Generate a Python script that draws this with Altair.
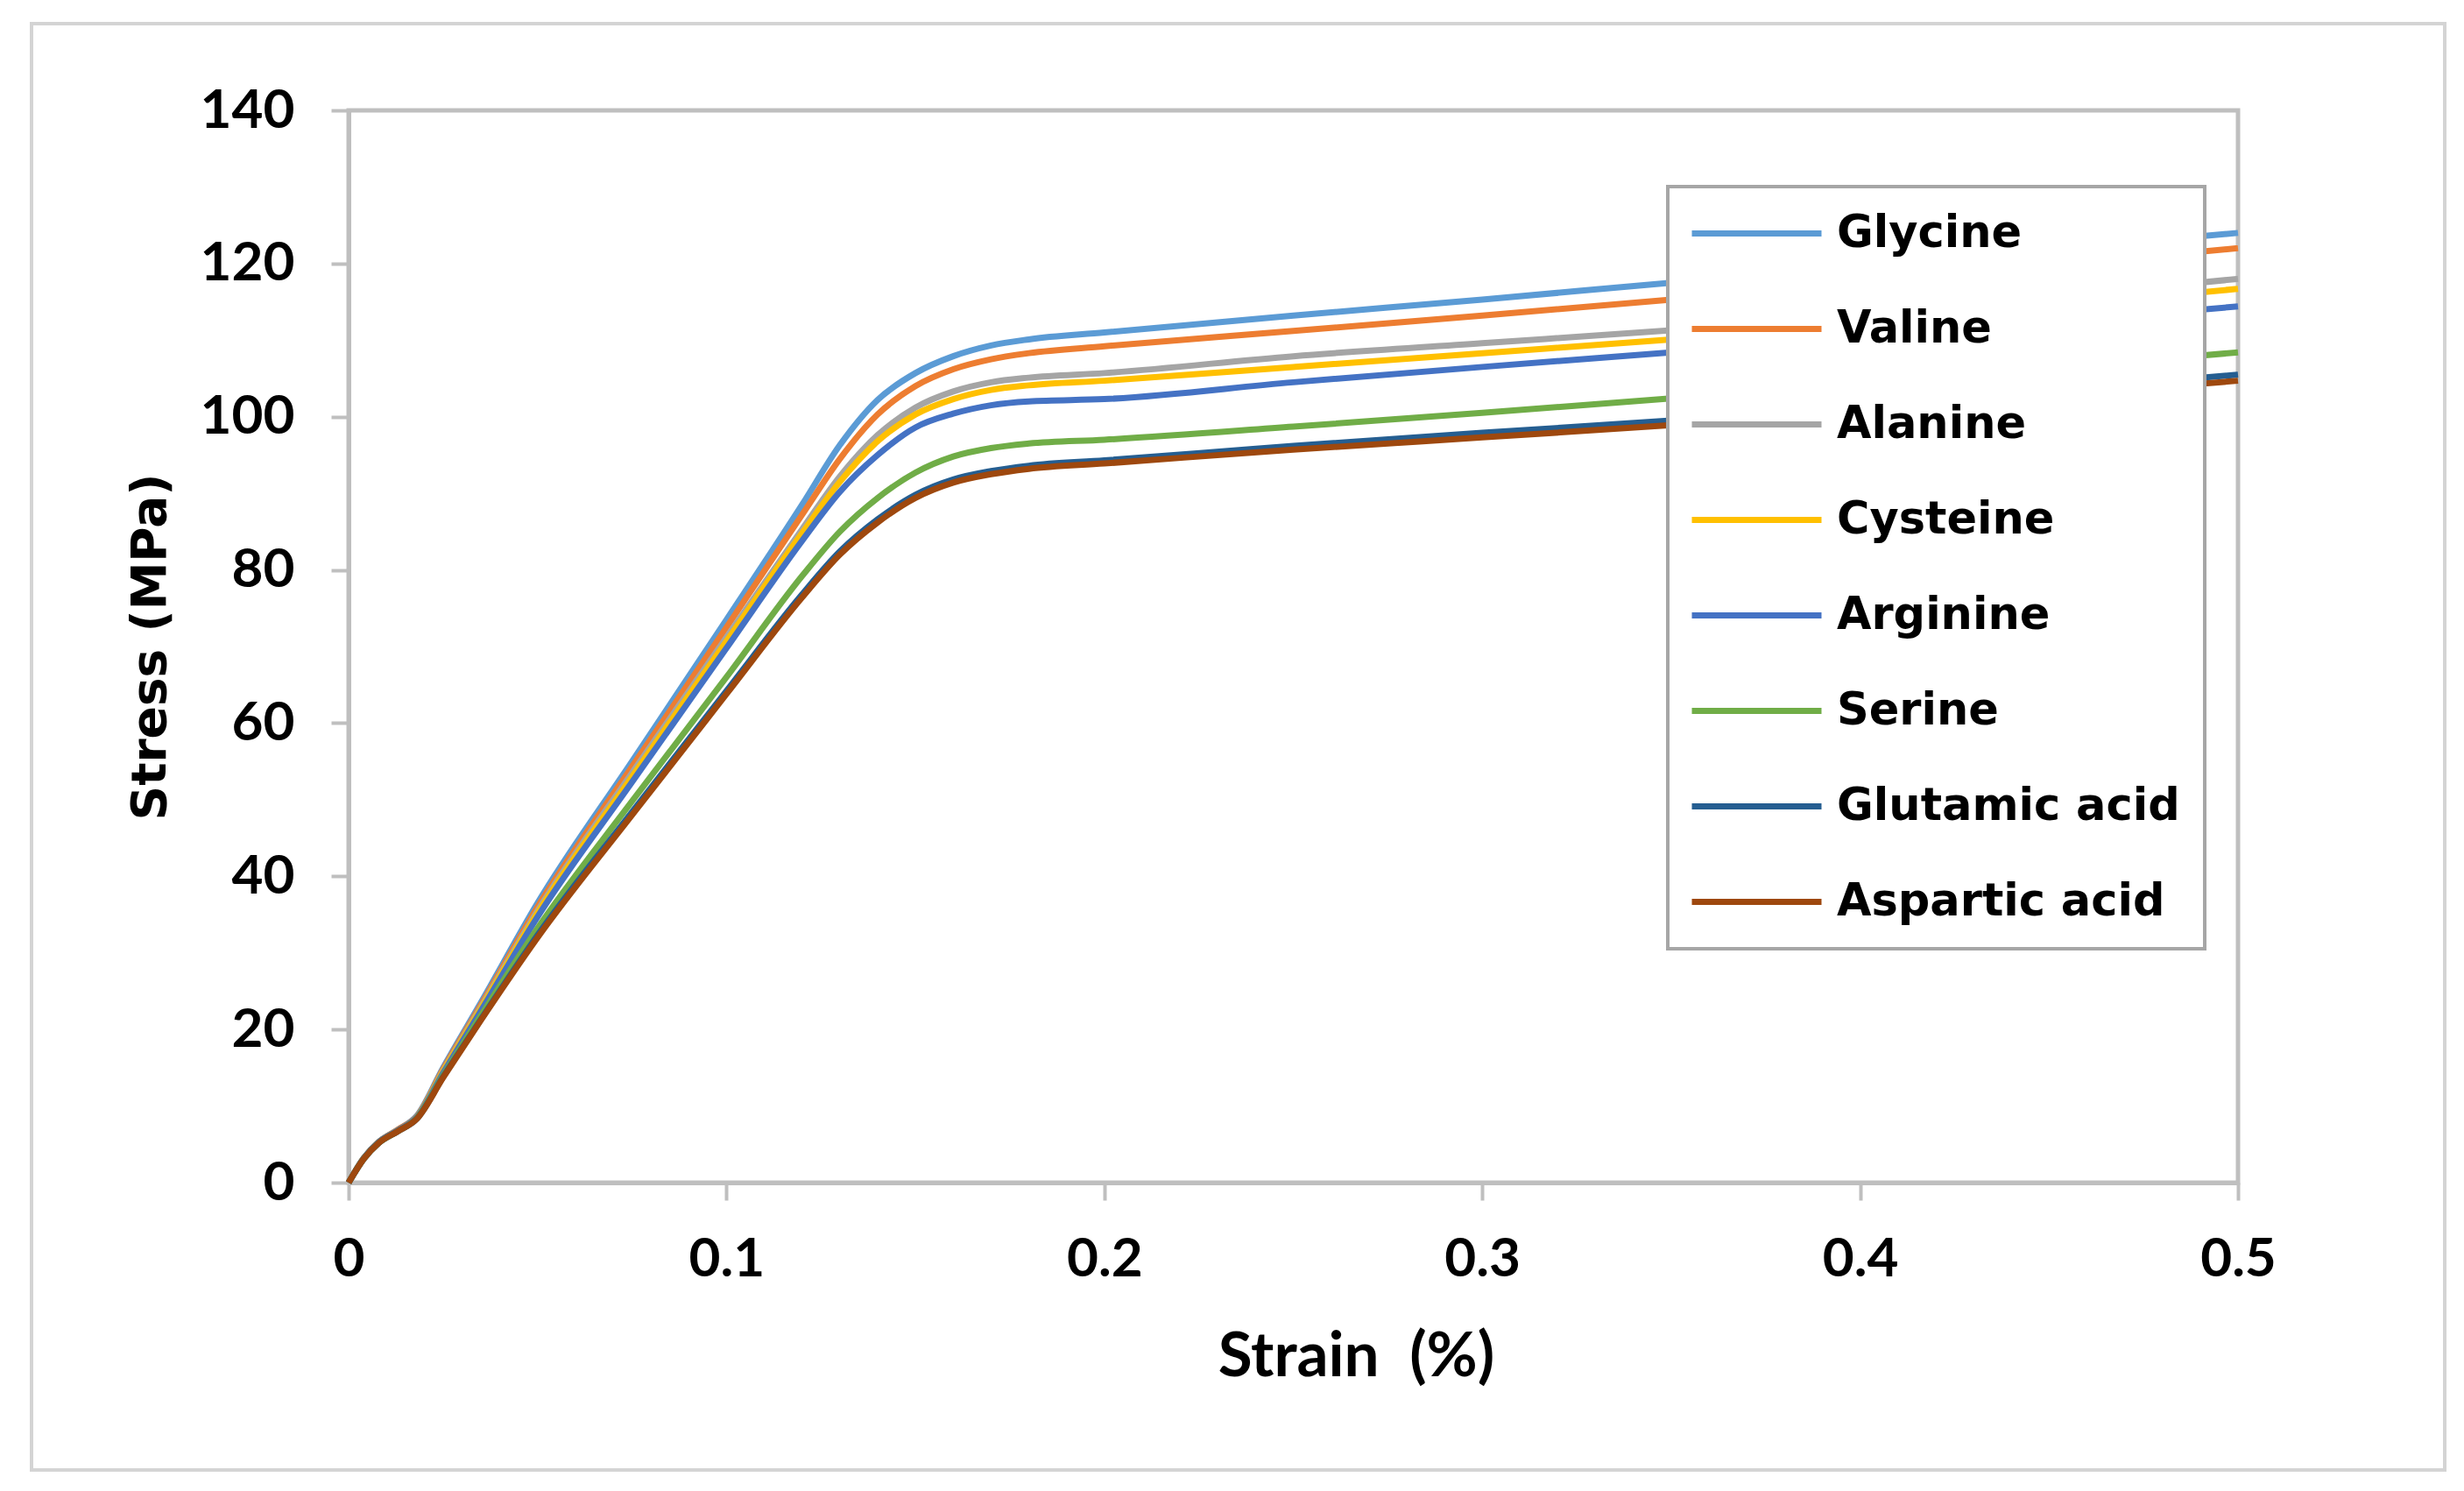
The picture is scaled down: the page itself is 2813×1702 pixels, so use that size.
import altair as alt
import pandas as pd

strain = [0, 0.004, 0.008, 0.013, 0.018, 0.025, 0.035, 0.05, 0.075, 0.1,
          0.12, 0.13, 0.14, 0.15, 0.16, 0.17, 0.18, 0.2, 0.25, 0.3, 0.35, 0.4, 0.45, 0.5]

series_names = ["Glycine", "Valine", "Alanine", "Cysteine", "Arginine",
                "Serine", "Glutamic acid", "Aspartic acid"]
series_colors = ["#5B9BD5", "#ED7D31", "#A5A5A5", "#FFC000", "#4472C4",
                 "#70AD47", "#255E91", "#9E480E"]

glycine = [0, 3.2, 5.3, 6.9, 8.7, 15.0, 23.5, 36.5, 55.0, 73.5,
           88.5, 96.3, 102.2, 105.7, 107.9, 109.3, 110.1, 111.0, 113.2, 115.3, 117.5, 119.6, 121.8, 124.0]
valine = [0, 3.2, 5.3, 6.9, 8.6, 14.8, 23.2, 36.0, 54.3, 72.5,
          87.2, 94.5, 100.3, 104.0, 106.2, 107.5, 108.3, 109.2, 111.2, 113.2, 115.3, 117.5, 119.7, 122.0]
alanine = [0, 3.2, 5.3, 6.8, 8.5, 14.6, 22.9, 35.5, 53.5, 71.2,
           85.3, 92.2, 97.6, 101.2, 103.3, 104.5, 105.1, 105.7, 107.9, 109.6, 111.3, 113.4, 115.6, 118.0]
cysteine = [0, 3.2, 5.3, 6.8, 8.5, 14.5, 22.7, 35.2, 53.0, 70.7,
            84.8, 91.5, 96.8, 100.3, 102.3, 103.5, 104.1, 104.7, 106.5, 108.3, 110.1, 112.2, 114.4, 116.7]
arginine = [0, 3.2, 5.3, 6.8, 8.5, 14.3, 22.4, 34.7, 52.3, 69.8,
            83.8, 90.2, 95.0, 98.6, 100.4, 101.5, 102.0, 102.3, 104.5, 106.5, 108.4, 110.3, 112.3, 114.4]
serine = [0, 3.1, 5.2, 6.7, 8.4, 14.0, 21.8, 33.2, 49.8, 66.0,
          79.2, 85.0, 89.4, 92.7, 94.8, 95.9, 96.5, 97.0, 98.7, 100.5, 102.4, 104.3, 106.3, 108.4]
glutamic_acid = [0, 3.1, 5.2, 6.7, 8.3, 13.8, 21.3, 32.3, 48.4, 64.2,
                 76.8, 82.4, 86.6, 89.8, 91.8, 92.9, 93.6, 94.3, 96.2, 97.9, 99.5, 101.4, 103.4, 105.5]
aspartic_acid = [0, 3.1, 5.2, 6.7, 8.3, 13.7, 21.2, 32.0, 48.0, 63.8,
                 76.4, 82.0, 86.2, 89.4, 91.4, 92.5, 93.2, 93.9, 95.7, 97.3, 98.9, 100.7, 102.7, 104.7]

x_ticks = [0, 0.1, 0.2, 0.3, 0.4, 0.5]
y_ticks = [0, 20, 40, 60, 80, 100, 120, 140]

all_series = [glycine, valine, alanine, cysteine, arginine, serine, glutamic_acid, aspartic_acid]
rows = []
for name, vals in zip(series_names, all_series):
    for s, v in zip(strain, vals):
        rows.append({"series": name, "strain": s, "stress": v})
df = pd.DataFrame(rows)

lines = alt.Chart(df).mark_line(strokeWidth=7, interpolate="monotone").encode(
    x=alt.X("strain:Q",
            scale=alt.Scale(domain=[0, 0.5], nice=False),
            axis=alt.Axis(values=x_ticks, format="~g", title="Strain\u00a0 (%)",
                          labelPadding=37, labelFlush=False,
                          titleFont="Lato", titleFontWeight="bold", titleFontSize=71,
                          titleX=1150, titleY=220, titleBaseline="alphabetic",
                          titleAlign="center")),
    y=alt.Y("stress:Q",
            scale=alt.Scale(domain=[0, 140], nice=False),
            axis=alt.Axis(values=y_ticks, title="Stress (MPa)",
                          labelPadding=42, labelFlush=False,
                          titleFont="DejaVu Sans", titleFontWeight="bold", titleFontSize=55,
                          titleX=-210, titleY=612, titleBaseline="alphabetic",
                          titleAlign="center")),
    color=alt.Color("series:N",
                    scale=alt.Scale(domain=series_names, range=series_colors),
                    sort=series_names,
                    legend=alt.Legend(orient="none", legendX=1506, legendY=87, title=None,
                                      symbolType="M-4,0H4", symbolSize=1369, symbolStrokeWidth=7,
                                      symbolOffset=48, labelOffset=66,
                                      labelFont="DejaVu Sans", labelFontWeight="bold",
                                      labelFontSize=51, labelColor="black",
                                      labelLimit=1000, padding=28, rowPadding=57,
                                      fillColor="white", strokeColor="#a6a6a6")),
)

frame = alt.Chart(pd.DataFrame({"k": [0]})).mark_rect(
    fill="white", fillOpacity=0, stroke="#d4d4d4", strokeWidth=4
).encode(x=alt.value(-362), x2=alt.value(2393), y=alt.value(-99), y2=alt.value(1552))

chart = alt.layer(frame, lines).properties(
    width=2157, height=1224,
    autosize=alt.AutoSizeParams(type="none"),
    padding={"left": 390, "top": 118, "right": 250, "bottom": 344},
    background="white",
).configure_view(
    stroke="#bfbfbf", strokeWidth=5
).configure_axis(
    domainColor="#bfbfbf", domainWidth=5, tickColor="#bfbfbf", tickWidth=4, tickSize=20,
    grid=False, labelFont="Lato", labelFontWeight="bold", labelFontSize=62,
    labelColor="black", titleColor="black"
).configure_legend(
    strokeWidth=4
)

chart.save("out.html", embed_options={"renderer": "svg", "actions": False})
